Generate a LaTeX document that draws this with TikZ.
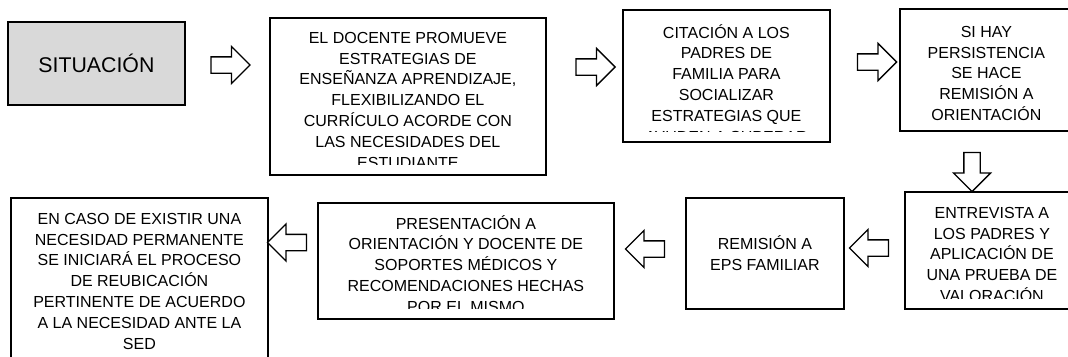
\documentclass[tikz,border=0pt]{standalone}
\usepackage{fontspec}
\setmainfont{Liberation Sans}
\usetikzlibrary{shapes,arrows,positioning}
\definecolor{grisclaro}{RGB}{217,217,217}
\tikzstyle{caja} = [draw, line width=1.8pt, rectangle, inner sep=0pt, anchor=north west]
\tikzstyle{texto} = [align=center, inner sep=0pt, anchor=north, font=\fontsize{16}{20.8}\selectfont]
\tikzstyle{flecha} = [draw, line width=1.3pt, single arrow, single arrow head extend=10.5pt, minimum height=39pt, inner xsep=0pt, inner ysep=7.5pt, fill=white]
\newcommand{\cuadro}[7]{% nombre, x, y, ancho, alto, bajada del texto, texto
  \node[caja, minimum width=#4pt, minimum height=#5pt] (#1) at (#2,#3) {};
  \begin{scope}
    \clip ([yshift=11pt]#1.south west) rectangle (#1.north east);
    \node[texto] at ([yshift=-#6pt]#1.north) {#7};
  \end{scope}}

\begin{document}
\begin{tikzpicture}[x=1pt, y=1pt]
  \useasboundingbox (0,0) rectangle (1068,-356);
  % fila de arriba
  \node[caja, fill=grisclaro, minimum width=177pt, minimum height=83pt, font=\fontsize{21.3}{25}\selectfont] (situacion) at (7,-21) {SITUACIÓN};
  \cuadro{docente}{269}{-17}{276}{157}{15}{EL DOCENTE PROMUEVE\\ESTRATEGIAS DE\\ENSEÑANZA APRENDIZAJE,\\FLEXIBILIZANDO EL\\CURRÍCULO ACORDE CON\\LAS NECESIDADES DEL\\ESTUDIANTE}
  \cuadro{citacion}{622}{-9}{207}{132}{15}{CITACIÓN A LOS\\PADRES DE\\FAMILIA PARA\\SOCIALIZAR\\ESTRATEGIAS QUE\\AYUDEN A SUPERAR}
  \cuadro{persistencia}{899}{-8}{173}{122}{18}{SI HAY\\PERSISTENCIA\\SE HACE\\REMISIÓN A\\ORIENTACIÓN}
  % fila de abajo
  \cuadro{entrevista}{904}{-191}{174}{117}{16}{ENTREVISTA A\\LOS PADRES Y\\APLICACIÓN DE\\UNA PRUEBA DE\\VALORACIÓN}
  \node[caja, align=center, minimum width=158pt, minimum height=111pt, font=\fontsize{16}{20.8}\selectfont] (remision) at (685,-197) {REMISIÓN A\\EPS FAMILIAR};
  \cuadro{presentacion}{317}{-202}{296}{116}{13}{PRESENTACIÓN A\\ORIENTACIÓN Y DOCENTE DE\\SOPORTES MÉDICOS Y\\RECOMENDACIONES HECHAS\\POR EL MISMO}
  \cuadro{reubicacion}{10}{-197}{257}{173}{16}{EN CASO DE EXISTIR UNA\\NECESIDAD PERMANENTE\\SE INICIARÁ EL PROCESO\\DE REUBICACIÓN\\PERTINENTE DE ACUERDO\\A LA NECESIDAD ANTE LA\\SED}
  % flechas
  \node[flecha] (f1) at (226.5,-65) {};
  \node[flecha] (f2) at (591.5,-67) {};
  \node[flecha] (f3) at (873,-62) {};
  \node[flecha, rotate=-90] (f4) at (972,-168) {};
  \node[flecha, rotate=180] (f5) at (873,-248) {};
  \node[flecha, rotate=180] (f6) at (649,-249) {};
  \node[flecha, rotate=180] (f7) at (291,-242.5) {};
\end{tikzpicture}
\end{document}
